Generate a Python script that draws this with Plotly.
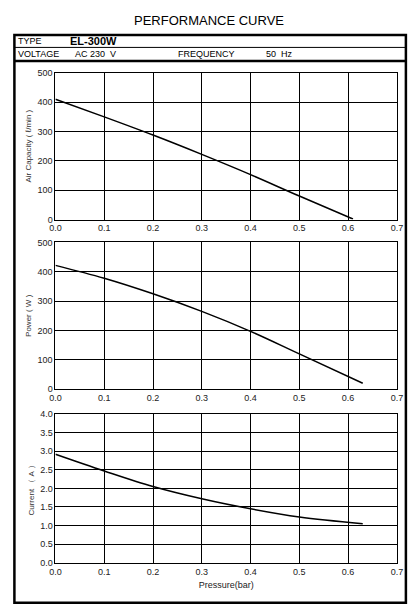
import plotly.graph_objects as go

pressure_air = [0.0, 0.1, 0.2, 0.3, 0.4, 0.5, 0.61]
air_capacity = [410, 350, 288, 222, 153, 80, 2]

pressure_pw = [0.0, 0.1, 0.2, 0.3, 0.4, 0.5, 0.63]
power = [422, 378, 325, 265, 197, 120, 20]

pressure_cur = [0.0, 0.1, 0.2, 0.3, 0.4, 0.5, 0.63]
current = [2.92, 2.47, 2.05, 1.72, 1.45, 1.23, 1.05]

W, H = 417, 615
FONT = "Liberation Sans, Arial, sans-serif"


# page is shown slightly shifted/scaled; map wanted screen pixels to paper fractions
def px(x):
    return max(0.0, ((x - 13.6) / 0.97) / W)


def py(y):
    return 1 - max(0.0, ((y - 12) / 0.986) / H)


fig = go.Figure()
fig.add_trace(go.Scatter(x=pressure_air, y=air_capacity, mode="lines", line=dict(color="black", width=1.5, shape="spline"), xaxis="x", yaxis="y"))
fig.add_trace(go.Scatter(x=pressure_pw, y=power, mode="lines", line=dict(color="black", width=1.5, shape="spline"), xaxis="x2", yaxis="y2"))
fig.add_trace(go.Scatter(x=pressure_cur, y=current, mode="lines", line=dict(color="black", width=1.5, shape="spline"), xaxis="x3", yaxis="y3"))

xdom = [px(55), px(396)]
ax_common = dict(showgrid=True, gridcolor="black", gridwidth=1, showline=True, linecolor="black",
                 linewidth=1, mirror=True, zeroline=False, ticks="", tickfont=dict(size=9, color="#222"))
xticks = dict(range=[0, 0.7], dtick=0.1, tickformat=".1f", **ax_common)

fig.update_layout(
    width=W, height=H, showlegend=False,
    margin=dict(l=0, r=0, t=0, b=0),
    plot_bgcolor="white", paper_bgcolor="white",
    font=dict(family=FONT, color="black"),
    xaxis=dict(domain=xdom, anchor="y", **xticks),
    yaxis=dict(domain=[py(219), py(72)], anchor="x", range=[0, 500], dtick=100,
               title=dict(text="Air Capacity ( ℓ/min )", font=dict(size=8, color="#333"), standoff=4), **ax_common),
    xaxis2=dict(domain=xdom, anchor="y2", **xticks),
    yaxis2=dict(domain=[py(389), py(242)], anchor="x2", range=[0, 500], dtick=100,
                title=dict(text="Power ( W )", font=dict(size=8, color="#333"), standoff=4), **ax_common),
    xaxis3=dict(domain=xdom, anchor="y3",
                title=dict(text="Pressure(bar)", font=dict(size=9, color="#222"), standoff=6), **xticks),
    yaxis3=dict(domain=[py(563), py(414)], anchor="x3", range=[0, 4], dtick=0.5, tickformat=".1f",
                title=dict(text="Current （ A ）", font=dict(size=8, color="#333"), standoff=4), **ax_common),
)

shapes = [
    dict(type="rect", xref="paper", yref="paper", x0=px(14), x1=px(405), y0=py(603), y1=py(34),
         line=dict(color="black", width=2.5)),
    dict(type="line", xref="paper", yref="paper", x0=px(14), x1=px(405), y0=py(46.5), y1=py(46.5),
         line=dict(color="black", width=1)),
    dict(type="line", xref="paper", yref="paper", x0=px(14), x1=px(405), y0=py(60), y1=py(60),
         line=dict(color="black", width=2.5)),
]
fig.update_layout(shapes=shapes)

ann = [
    dict(text="PERFORMANCE CURVE", x=px(208), y=py(20), size=13),
    dict(text="TYPE", x=px(16), y=py(40), size=9, anchor="left"),
    dict(text="<b>EL-300W</b>", x=px(68), y=py(40), size=11, anchor="left"),
    dict(text="VOLTAGE", x=px(16), y=py(53), size=9, anchor="left"),
    dict(text="AC 230  V", x=px(73), y=py(53), size=9, anchor="left"),
    dict(text="FREQUENCY", x=px(175), y=py(53), size=9, anchor="left"),
    dict(text="50  Hz", x=px(263), y=py(53), size=9, anchor="left"),
]
for a in ann:
    fig.add_annotation(text=a["text"], x=a["x"], y=a["y"], xref="paper", yref="paper",
                       xanchor=a.get("anchor", "center"), yanchor="middle", showarrow=False,
                       font=dict(size=a["size"], color="black", family=FONT))

fig.write_html("out.html")
